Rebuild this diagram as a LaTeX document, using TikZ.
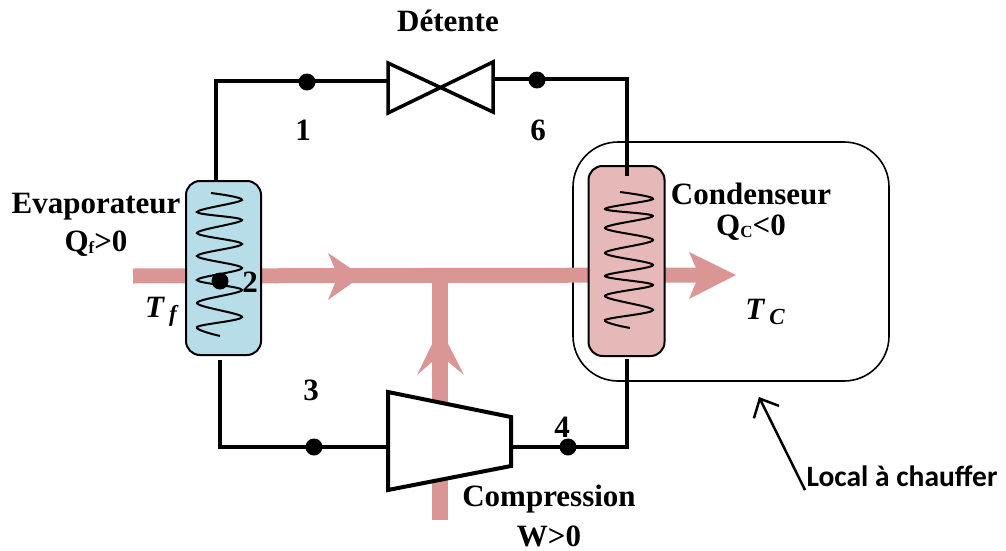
\documentclass[tikz,border=0pt]{standalone}
\usepackage{fontspec}
\usepackage{xcolor}
\setmainfont{Liberation Serif}
\newfontfamily\locfont{Carlito}
\usetikzlibrary{arrows.meta}
\definecolor{fluxpink}{HTML}{DA9694}
\definecolor{evapblue}{HTML}{B7DEE8}
\definecolor{condpink}{HTML}{E6B9B8}
\newcommand{\lowsub}[1]{\raisebox{-0.3ex}{\fontsize{23}{23}\selectfont #1}}
\newcommand{\smallsub}[1]{\raisebox{-0.1ex}{\fontsize{17}{17}\selectfont #1}}
\tikzset{
    pipe/.style={line width=4pt,line cap=butt,line join=miter},
    flux/.style={line width=15pt,color=fluxpink},
    fluxhead/.style={fill=fluxpink,draw=none},
    exch/.style={draw,line width=2pt,rounded corners=14pt,inner sep=0pt},
    coil/.style={line width=2pt},
    statept/.style={circle,fill=black,inner sep=0pt,minimum size=17pt},
    lbl/.style={font=\fontsize{31}{33}\selectfont\bfseries,inner sep=0pt,align=center},
}
\begin{document}
\begin{tikzpicture}[x=1pt,y=-1pt]
    \useasboundingbox (0,0) rectangle (1006,551);
    % local
    \node[draw,line width=1.6pt,rounded corners=45pt,minimum width=316pt,minimum height=239pt,inner sep=0pt] (local) at (731,261.5) {};
    % flux
    \coordinate (fluxin) at (133,276);
    \coordinate (fluxT) at (440,275);
    \coordinate (fluxout) at (710,275);
    \coordinate (workin) at (440,520);
    \draw[flux] (fluxin) -- (fluxout);
    \draw[flux,line width=16pt] (workin) -- (fluxT);
    \fill[fluxhead] (328,253) -- (362,276) -- (328,300) -- (338,276) -- cycle;
    \fill[fluxhead] (689,252) -- (736,275) -- (689,299) -- (699,275) -- cycle;
    \fill[fluxhead] (440,328) -- (464,375) -- (440,355) -- (417,375) -- cycle;
    % exchangers
    \node[exch,fill=evapblue,minimum width=75pt,minimum height=174pt] (evap) at (223.5,268) {};
    \node[exch,fill=condpink,minimum width=76pt,minimum height=190pt] (cond) at (626.5,261) {};
    \draw[coil] plot[smooth,tension=0.55] coordinates {(211,193) (242,200) (197,212) (242,220) (197,233) (242,244) (197,256) (242,268) (197,280) (242,290) (197,303) (242,317) (197,327) (220,336)};
    \draw[coil] plot[smooth,tension=0.55] coordinates {(620,192) (653,199) (605,209) (653,216) (605,228) (653,240) (605,253) (653,265) (605,276) (653,285) (605,296) (653,310) (605,320) (630,328)};
    % valve and compressor
    \draw[pipe,line width=3.5pt] (388,63) -- (493,112) -- (493,62) -- (388,113) -- cycle;
    \draw[pipe,fill=white] (388,392) -- (511,417) -- (511,466) -- (388,490) -- cycle;
    \coordinate (valvein) at (388,81);
    \coordinate (valveout) at (493,79);
    \coordinate (compin) at (388,447);
    \coordinate (compout) at (511,447);
    \coordinate (evaptop) at (216,181);
    \coordinate (evapbot) at (220,360);
    \coordinate (condtop) at (627,176);
    \coordinate (condbot) at (627,359);
    % pipes
    \draw[pipe] (valvein) -- (216,81) -- (evaptop);
    \draw[pipe] (valveout) -- (627,79) -- (condtop);
    \draw[pipe] (evapbot) -- (220,447) -- (compin);
    \draw[pipe] (compout) -- (627,447) -- (condbot);
    % state points
    \node[statept] (p1) at (307,82) {};
    \node[statept] (p2) at (220,281) {};
    \node[statept] (p3) at (314,447) {};
    \node[statept] (p4) at (568,447) {};
    \node[statept] (p6) at (537,80) {};
    % labels
    \node[lbl] (detente) at (448,21) {Détente};
    \node[lbl] (lab1) at (303,130) {1};
    \node[lbl] (lab2) at (250,282) {2};
    \node[lbl] (lab3) at (311,390) {3};
    \node[lbl] (lab4) at (562,427) {4};
    \node[lbl] (lab6) at (538,130) {6};
    \node[lbl] (evaplab) at (96,207) {Evaporateur};
    \node[lbl] (qflab) at (96,244) {Q\smallsub{f}>0};
    \node[lbl] (tflab) at (161,312) {\itshape T\,\lowsub{f}};
    \node[lbl] (condlab) at (751,194) {Condenseur};
    \node[lbl] (qclab) at (751,228) {Q\smallsub{C}<0};
    \node[lbl] (tclab) at (765,312) {\itshape T\,\lowsub{C}};
    \node[lbl] (complab) at (549,499) {Compression};
    \node[lbl] (wlab) at (549,536) {W>0};
    \node[lbl,font=\fontsize{29.5}{31}\selectfont\bfseries\locfont] (loclab) at (902,476) {Local à chauffer};
    \coordinate (locarrow) at (805,490);
    \draw[line width=2.5pt,-{Straight Barb[length=15pt,width=28pt]}] (locarrow) -- (759,397);
\end{tikzpicture}
\end{document}
